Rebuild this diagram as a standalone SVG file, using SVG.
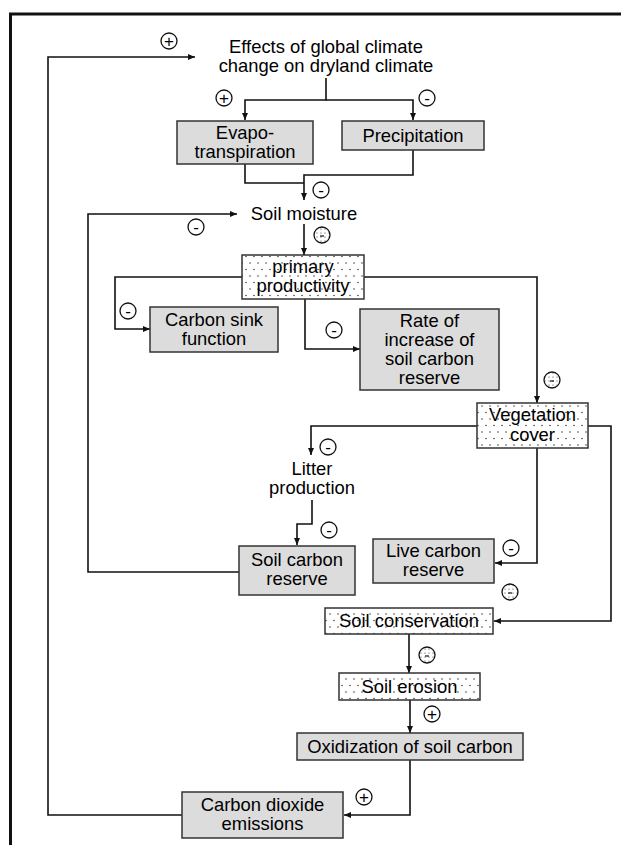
<svg xmlns="http://www.w3.org/2000/svg" width="621" height="845" viewBox="0 0 621 845">
<style>
.t{font-family:"Liberation Sans",Arial,sans-serif;font-size:18.4px;fill:#000;text-anchor:middle}
.g{fill:#dcdcdc;stroke:#333;stroke-width:1.5}
.d{fill:url(#dots);stroke:#333;stroke-width:1.5}
.c{fill:none;stroke:#111;stroke-width:1.6}
.s{fill:#fff;stroke:#111;stroke-width:1.3}
.sd{fill:url(#dots2);stroke:#111;stroke-width:1.3}
.st{font-family:"Liberation Sans",Arial,sans-serif;font-size:17px;fill:#000;text-anchor:middle}
</style>
<defs>
<pattern id="dots" width="8" height="13" patternUnits="userSpaceOnUse">
<rect width="8" height="13" fill="#fff"/>
<circle cx="2" cy="3" r="0.8" fill="#444"/>
<circle cx="6" cy="9.5" r="0.8" fill="#444"/>
</pattern>
<pattern id="dots2" width="4" height="4" patternUnits="userSpaceOnUse">
<rect width="4" height="4" fill="#fff"/>
<circle cx="1" cy="1" r="0.6" fill="#333"/>
</pattern>
<marker id="ah" markerWidth="8" markerHeight="8" refX="7" refY="4" orient="auto" markerUnits="userSpaceOnUse">
<path d="M0,1 L7,4 L0,7 Z" fill="#111"/>
</marker>
</defs>
<rect width="621" height="845" fill="#fff"/>
<polyline points="10.5,845 10.5,14 621,14" fill="none" stroke="#111" stroke-width="3"/>

<g id="connectors">
<path class="c" d="M182,815 H48 V57 H195" marker-end="url(#ah)"/>
<path class="c" d="M326,78 V100 H245 V120" marker-end="url(#ah)"/>
<path class="c" d="M326,100 H413 V120" marker-end="url(#ah)"/>
<path class="c" d="M245,164 V183 H304"/>
<path class="c" d="M413,150 V175 H304 V200" marker-end="url(#ah)"/>
<path class="c" d="M239,572 H88 V214 H237" marker-end="url(#ah)"/>
<path class="c" d="M304,224 V255" marker-end="url(#ah)"/>
<path class="c" d="M242,277 H115 V329 H150" marker-end="url(#ah)"/>
<path class="c" d="M305,299 V349 H360" marker-end="url(#ah)"/>
<path class="c" d="M364,277 H537 V403" marker-end="url(#ah)"/>
<path class="c" d="M477,426 H311 V455" marker-end="url(#ah)"/>
<path class="c" d="M312,500 V524 H297 V545" marker-end="url(#ah)"/>
<path class="c" d="M537,448 V563 H495" marker-end="url(#ah)"/>
<path class="c" d="M588,426 H611 V621 H494" marker-end="url(#ah)"/>
<path class="c" d="M409,634 V673" marker-end="url(#ah)"/>
<path class="c" d="M410,700 V733" marker-end="url(#ah)"/>
<path class="c" d="M410,760 V815 H344" marker-end="url(#ah)"/>
</g>

<g id="signs">
<circle class="s" cx="169" cy="41" r="8"/><text class="st" x="169" y="47">+</text>
<circle class="s" cx="224" cy="98" r="8"/><text class="st" x="224" y="104">+</text>
<circle class="s" cx="427" cy="98" r="8"/><text class="st" x="427" y="104">-</text>
<circle class="s" cx="321" cy="190" r="8"/><text class="st" x="321" y="196">-</text>
<circle class="s" cx="196" cy="227" r="8"/><text class="st" x="196" y="233">-</text>
<circle class="sd" cx="322" cy="235" r="8"/><path d="M320,236 h4" stroke="#111" stroke-width="1.2"/>
<circle class="s" cx="128" cy="311" r="8"/><text class="st" x="128" y="317">-</text>
<circle class="s" cx="334" cy="330" r="8"/><text class="st" x="334" y="336">-</text>
<circle class="sd" cx="552" cy="380" r="8"/><path d="M550,381 h4" stroke="#111" stroke-width="1.2"/>
<circle class="s" cx="328" cy="447" r="8"/><text class="st" x="328" y="453">-</text>
<circle class="s" cx="329" cy="530" r="8"/><text class="st" x="329" y="536">-</text>
<circle class="s" cx="511" cy="548" r="8"/><text class="st" x="511" y="554">-</text>
<circle class="sd" cx="510" cy="592" r="8"/><path d="M508,593 h4" stroke="#111" stroke-width="1.2"/>
<circle class="sd" cx="427" cy="655" r="8"/><path d="M425,656 h4" stroke="#111" stroke-width="1.2"/>
<circle class="s" cx="432" cy="714" r="8"/><text class="st" x="432" y="720">+</text>
<circle class="s" cx="364" cy="797" r="8"/><text class="st" x="364" y="803">+</text>
</g>

<g id="n-effects">
<text class="t" x="326" y="53">Effects of global climate</text>
<text class="t" x="326" y="72">change on dryland climate</text>
</g>
<g id="n-evapo">
<rect class="g" x="177" y="121" width="136" height="43"/>
<text class="t" x="245" y="139">Evapo-</text>
<text class="t" x="245" y="158">transpiration</text>
</g>
<g id="n-precip">
<rect class="g" x="342" y="121" width="142" height="29"/>
<text class="t" x="413" y="142">Precipitation</text>
</g>
<g id="n-soilmoist">
<text class="t" x="304" y="220">Soil moisture</text>
</g>
<g id="n-primary">
<rect class="d" x="242" y="255" width="122" height="44"/>
<text class="t" x="303" y="273">primary</text>
<text class="t" x="303" y="292">productivity</text>
</g>
<g id="n-sink">
<rect class="g" x="150" y="307" width="128" height="45"/>
<text class="t" x="214" y="326">Carbon sink</text>
<text class="t" x="214" y="345">function</text>
</g>
<g id="n-rate">
<rect class="g" x="360" y="309" width="139" height="81"/>
<text class="t" x="429.5" y="327">Rate of</text>
<text class="t" x="429.5" y="346">increase of</text>
<text class="t" x="429.5" y="365">soil carbon</text>
<text class="t" x="429.5" y="384">reserve</text>
</g>
<g id="n-veg">
<rect class="d" x="477" y="403" width="111" height="45"/>
<text class="t" x="532.5" y="421">Vegetation</text>
<text class="t" x="532.5" y="441">cover</text>
</g>
<g id="n-litter">
<text class="t" x="312" y="475">Litter</text>
<text class="t" x="312" y="494">production</text>
</g>
<g id="n-soilcarbon">
<rect class="g" x="239" y="546" width="116" height="49"/>
<text class="t" x="297" y="566">Soil carbon</text>
<text class="t" x="297" y="585">reserve</text>
</g>
<g id="n-live">
<rect class="g" x="373" y="539" width="121" height="44"/>
<text class="t" x="433.5" y="557">Live carbon</text>
<text class="t" x="433.5" y="576">reserve</text>
</g>
<g id="n-conserv">
<rect class="d" x="325" y="608" width="168" height="26"/>
<text class="t" x="409" y="627">Soil conservation</text>
</g>
<g id="n-erosion">
<rect class="d" x="339" y="673" width="141" height="27"/>
<text class="t" x="409.5" y="693">Soil erosion</text>
</g>
<g id="n-oxid">
<rect class="g" x="297" y="733" width="226" height="27"/>
<text class="t" x="410" y="753">Oxidization of soil carbon</text>
</g>
<g id="n-co2">
<rect class="g" x="182" y="792" width="161" height="46"/>
<text class="t" x="262.5" y="811">Carbon dioxide</text>
<text class="t" x="262.5" y="830">emissions</text>
</g>
</svg>
